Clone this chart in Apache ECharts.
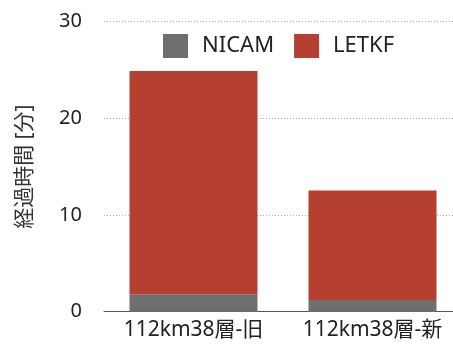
<!DOCTYPE html>
<html><head><meta charset="utf-8">
<script src="https://cdn.jsdelivr.net/npm/echarts@6/dist/echarts.min.js"></script>
<style>html,body{margin:0;padding:0;background:#fff}#c{width:453px;height:353px}</style>
</head><body><div id="c"></div>
<script>
const categories = ['112km38層-旧', '112km38層-新'];
const nicam = [1.8, 1.2];
const letkf = [23.1, 11.35];
const yTicks = [0, 10, 20, 30];

const font = '"Noto Sans", "Noto Sans CJK JP", sans-serif';
const chart = echarts.init(document.getElementById('c'), null, {renderer: 'canvas'});
chart.setOption({
  animation: false,
  backgroundColor: '#fff',
  legend: {
    data: ['NICAM', 'LETKF'],
    top: 29, left: 158,
    itemWidth: 25, itemHeight: 24, itemGap: 20,
    icon: 'rect',
    textStyle: {fontFamily: font, fontSize: 22, color: '#222', padding: [0,0,0,9]}
  },
  grid: {left: 104, width: 358, top: 21.7, bottom: 41.3, containLabel: false, outerBoundsMode: 'none'},
  xAxis: {
    type: 'category', data: categories,
    axisLine: {lineStyle: {color: '#555', width: 1}},
    axisTick: {show: false},
    axisLabel: {fontFamily: font, fontSize: 21, color: '#222', margin: 8, interval: 0, hideOverlap: false}
  },
  yAxis: {
    type: 'value', min: yTicks[0], max: yTicks[yTicks.length-1], interval: 10,
    name: '経過時間 [分]', nameLocation: 'middle', nameGap: 68, nameRotate: 90,
    nameTextStyle: {fontFamily: font, fontSize: 21, color: '#333'},
    axisLine: {show: false}, axisTick: {show: false},
    axisLabel: {fontFamily: font, fontSize: 20, color: '#222', margin: 22},
    splitLine: {lineStyle: {color: '#aaa', type: [1, 2], width: 1}}
  },
  series: [
    {name: 'NICAM', type: 'bar', stack: 't', data: nicam, barWidth: 128, itemStyle: {color: '#6f6f6f'}},
    {name: 'LETKF', type: 'bar', stack: 't', data: letkf, barWidth: 128, itemStyle: {color: '#b5402f'}}
  ]
});
</script></body></html>
